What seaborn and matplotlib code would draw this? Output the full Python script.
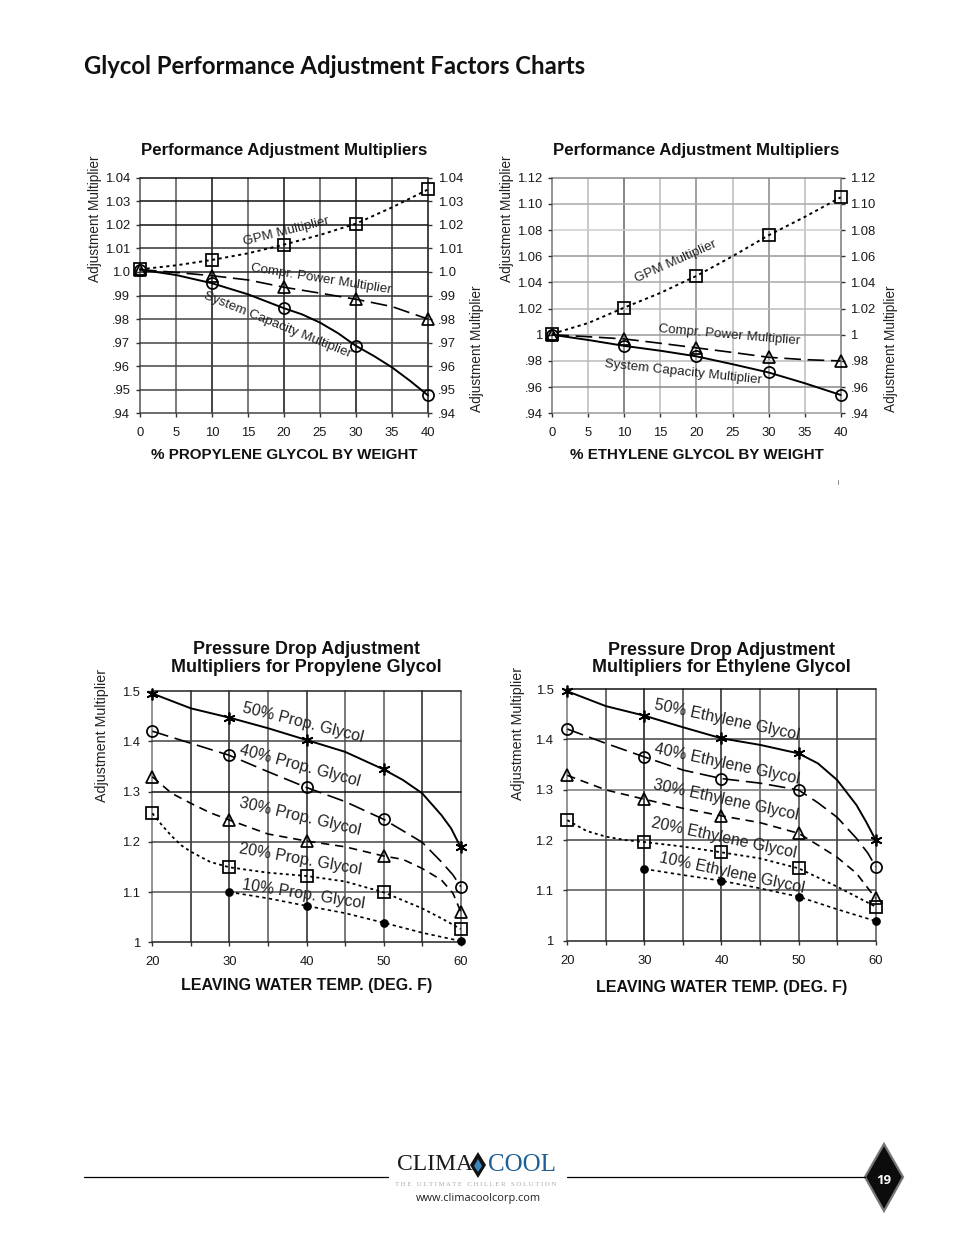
import matplotlib
matplotlib.use("Agg")
import matplotlib.pyplot as plt
import seaborn as sns

sns.set_style("white")
plt.rcParams["font.family"] = ["Liberation Sans", "DejaVu Sans"]

W, H = 954, 1235

# ---- data ----
pct_ticks = [0, 5, 10, 15, 20, 25, 30, 35, 40]
pct_marks = [0, 10, 20, 30, 40]
pct_fine = [0, 5, 10, 15, 20, 22.5, 25, 27.5, 30, 32.5, 35, 37.5, 40]
temp_ticks = [20, 25, 30, 35, 40, 45, 50, 55, 60]
temp_labels = ["20", "", "30", "", "40", "", "50", "", "60"]
temp_marks = [20, 30, 40, 50, 60]

prop_y_ticks = [1.04, 1.03, 1.02, 1.01, 1.0, .99, .98, .97, .96, .95, .94]
prop_y_labels = ["1.04", "1.03", "1.02", "1.01", "1.0", ".99", ".98", ".97", ".96", ".95", ".94"]
eth_y_ticks = [1.12, 1.10, 1.08, 1.06, 1.04, 1.02, 1.0, .98, .96, .94]
eth_y_labels = ["1.12", "1.10", "1.08", "1.06", "1.04", "1.02", "1", ".98", ".96", ".94"]
drop_y_ticks = [1.5, 1.4, 1.3, 1.2, 1.1, 1.0]
drop_y_labels = ["1.5", "1.4", "1.3", "1.2", "1.1", "1"]

prop_gpm = [1.0011, 1.0028, 1.0051, 1.0079, 1.0116, 1.0157, 1.0205, 1.0274, 1.035]
prop_power = [1.001, .9998, .9984, .9966, .9935, .991, .9884, .9853, .980]
prop_cap = [1.001, .9987, .9952, .9905, .9846, .982, .9785, .974, .9686, .9643, .9595, .9538, .9476]

eth_gpm = [1.0007, 1.009, 1.0208, 1.032, 1.045, 1.06, 1.076, 1.09, 1.105]
eth_power = [1.0, .9985, .9968, .9935, .990, .9865, .9828, .981, .98]
eth_cap = [1.0, .996, .9915, .9878, .9835, .9775, .9712, .963, .954]

# pressure drop, propylene
pp50_x = [20, 25, 30, 35, 40, 45, 50, 52.5, 55, 57.5, 58.75, 60]
pp50_y = [1.495, 1.4655, 1.447, 1.426, 1.4025, 1.379, 1.344, 1.323, 1.2965, 1.253, 1.2268, 1.189]
pp40_x = [20, 25, 30, 35, 40, 45, 50, 52.5, 55, 57.5, 59, 60]
pp40_y = [1.42, 1.396, 1.372, 1.3395, 1.308, 1.28, 1.2447, 1.222, 1.199, 1.16, 1.134, 1.1107]
pp30_x = [20, 22.5, 25, 27.5, 30, 35, 40, 45, 50, 52.5, 55, 57.5, 59, 60]
pp30_y = [1.3295, 1.2965, 1.2765, 1.2578, 1.2433, 1.2155, 1.2015, 1.19, 1.1717, 1.165, 1.147, 1.124, 1.0975, 1.061]
pp20_x = [20, 21.25, 22.5, 23.75, 25, 27.5, 30, 35, 40, 45, 50, 55, 57.5, 60]
pp20_y = [1.2567, 1.233, 1.2115, 1.193, 1.1803, 1.16, 1.1492, 1.1385, 1.132, 1.121, 1.0995, 1.0675, 1.0477, 1.0265]
pp10_x = [30, 35, 40, 45, 50, 55, 60]
pp10_y = [1.1, 1.0875, 1.0725, 1.058, 1.039, 1.019, 1.0025]

# pressure drop, ethylene
pe50_x = [20, 25, 30, 35, 40, 45, 50, 52.5, 55, 57.5, 58.75, 60]
pe50_y = [1.4955, 1.466, 1.447, 1.424, 1.402, 1.389, 1.372, 1.3523, 1.3192, 1.2696, 1.2364, 1.2]
pe40_x = [20, 25, 30, 35, 40, 45, 50, 52.5, 55, 57.5, 59, 60]
pe40_y = [1.4205, 1.392, 1.365, 1.339, 1.322, 1.313, 1.2994, 1.2741, 1.2451, 1.2034, 1.1736, 1.147]
pe30_x = [20, 25, 30, 35, 40, 45, 50, 52.5, 55, 57.5, 60]
pe30_y = [1.3285, 1.2995, 1.281, 1.263, 1.248, 1.2345, 1.2133, 1.19, 1.1657, 1.1339, 1.0842]
pe20_x = [20, 22.5, 25, 27.5, 30, 35, 40, 45, 50, 55, 57.5, 60]
pe20_y = [1.2395, 1.218, 1.2067, 1.2, 1.196, 1.187, 1.1755, 1.1635, 1.1438, 1.1073, 1.0874, 1.0675]
pe10_x = [30, 35, 40, 45, 50, 55, 60]
pe10_y = [1.1425, 1.1305, 1.119, 1.104, 1.0874, 1.0624, 1.039]

# marker heights at the labelled points
prop_gpm_m = [1.0011, 1.0051, 1.0116, 1.0205, 1.035]
prop_power_m = [1.001, .9984, .9935, .9884, .980]
prop_cap_m = [1.001, .9952, .9846, .9686, .9476]
eth_gpm_m = [1.0007, 1.0208, 1.045, 1.076, 1.105]
eth_power_m = [1.0, .9968, .990, .9828, .98]
eth_cap_m = [1.0, .9915, .9835, .9712, .954]
pp50_m = [1.495, 1.447, 1.4025, 1.344, 1.189]
pp40_m = [1.42, 1.372, 1.308, 1.2447, 1.1107]
pp30_m = [1.3295, 1.2433, 1.2015, 1.1717, 1.061]
pp20_m = [1.2567, 1.1492, 1.132, 1.0995, 1.0265]
pp10_m = [1.1, 1.0725, 1.039, 1.0025]
pe50_m = [1.4955, 1.447, 1.402, 1.372, 1.2]
pe40_m = [1.4205, 1.365, 1.322, 1.2994, 1.147]
pe30_m = [1.3285, 1.281, 1.248, 1.2133, 1.0842]
pe20_m = [1.2395, 1.196, 1.1755, 1.1438, 1.0675]
pe10_m = [1.1425, 1.119, 1.0874, 1.039]

# ---- line styles ----
DOT = (0, (1.6, 1.8))
SHORT = (0, (5, 3.5))
LONG = (0, (10, 4))
SOLID = "-"
TINY = (0, (2, 2))

fig = plt.figure(figsize=(W / 100, H / 100), dpi=100, facecolor="white")


def make_axes(left, right, top, bottom):
    return fig.add_axes([left / W, 1 - bottom / H, (right - left) / W, (bottom - top) / H])


def curve(ax, x, y, ls, lw=1.2):
    sns.lineplot(x=x, y=y, ax=ax, color="black", linewidth=lw, linestyle=ls,
                 estimator=None, sort=False, clip_on=False, zorder=3)


def marks(ax, x, y, marker, size=8, fill="none"):
    sns.lineplot(x=x, y=y, ax=ax, linestyle="", marker=marker, markersize=size,
                 markerfacecolor=fill, markeredgecolor="black", markeredgewidth=1.25,
                 estimator=None, sort=False, clip_on=False, zorder=4)


def style_axes(ax, xticks, xlabels, xlim, yticks, ylabels, ylim, xgrid, ygrid, right=False, ypad=4):
    ax.set_xlim(*xlim)
    ax.set_ylim(*ylim)
    ax.set_xticks(xticks)
    ax.set_xticklabels(xlabels)
    ax.set_yticks(yticks)
    ax.set_yticklabels(ylabels)
    ax.grid(True)
    ax.patch.set_alpha(0)
    for line, c in zip(ax.get_xgridlines(), xgrid):
        line.set(color=c, linewidth=1.1, clip_on=False)
    for line, c in zip(ax.get_ygridlines(), ygrid):
        line.set(color=c, linewidth=1.1, clip_on=False)
    for s in ax.spines.values():
        s.set_visible(False)
    ax.tick_params(axis="x", bottom=True, length=3, width=1, color="#333333", pad=7,
                   labelsize=9.4, labelcolor="#1a1a1a")
    ax.tick_params(axis="y", left=True, right=right, labelright=right, length=3, width=1,
                   color="#333333", pad=ypad, labelsize=9.4, labelcolor="#1a1a1a")
    ax.set_ylabel("")


def head(ax, title, xlabel, size, xsize, pad, labelpad):
    ax.set_title(title, fontsize=size, fontweight="bold", pad=pad, color="#111111", linespacing=1.05)
    ax.set_xlabel(xlabel, fontsize=xsize, fontweight="bold", labelpad=labelpad, color="#111111")


def note(x, y, s, rot=0, size=9.6, **kw):
    # placed in page pixels
    fig.text(x / W, 1 - y / H, s, rotation=rot, rotation_mode="anchor", ha=kw.pop("ha", "center"),
             va="center", fontsize=size, color=kw.pop("color", "#222222"), zorder=6, **kw)


# ---- top left ----
ax1 = make_axes(140, 428, 177.7, 413.3)
curve(ax1, pct_ticks, prop_gpm, DOT, 1.4)
curve(ax1, pct_ticks, prop_power, LONG, 1.2)
curve(ax1, pct_fine, prop_cap, SOLID, 1.4)
marks(ax1, pct_marks, prop_gpm_m, "s")
marks(ax1, pct_marks, prop_power_m, "^")
marks(ax1, pct_marks, prop_cap_m, "o")
style_axes(ax1, pct_ticks, pct_ticks, (0, 40), prop_y_ticks, prop_y_labels, (.94, 1.04),
           ["#555555", "#555555", "#111111", "#555555", "#111111", "#555555", "#111111", "#333333", "#111111"],
           ["#111111", "#111111", "#111111", "#333333", "#222222", "#333333", "#444444", "#444444", "#444444", "#444444", "#444444"],
           right=True)
head(ax1, "Performance Adjustment Multipliers", "% PROPYLENE GLYCOL BY WEIGHT", 12.1, 10.9, 16, 6)
note(286, 232, "GPM Multiplier", 14)
note(321, 279, "Compr. Power Multiplier", -9)
note(277, 325, "System Capacity Multiplier", -22)
note(95, 219, "Adjustment Multiplier", 90, 9.8)
note(477, 349, "Adjustment Multiplier", 90, 9.8)

# ---- top right ----
ax2 = make_axes(552.3, 840.7, 177.7, 413.3)
curve(ax2, pct_ticks, eth_gpm, DOT, 1.4)
curve(ax2, pct_ticks, eth_power, LONG, 1.2)
curve(ax2, pct_ticks, eth_cap, SOLID, 1.4)
marks(ax2, pct_marks, eth_gpm_m, "s")
marks(ax2, pct_marks, eth_power_m, "^")
marks(ax2, pct_marks, eth_cap_m, "o")
style_axes(ax2, pct_ticks, pct_ticks, (0, 40), eth_y_ticks, eth_y_labels, (.94, 1.12),
           ["#777777", "#bbbbbb", "#666666", "#bbbbbb", "#888888", "#bbbbbb", "#888888", "#bbbbbb", "#777777"],
           ["#888888", "#aaaaaa", "#cccccc", "#999999", "#aaaaaa", "#bbbbbb", "#999999", "#bbbbbb", "#888888", "#999999"],
           right=True)
head(ax2, "Performance Adjustment Multipliers", "% ETHYLENE GLYCOL BY WEIGHT", 12.1, 10.9, 16, 6)
note(676, 262, "GPM Multiplier", 24)
note(729, 335, "Compr. Power Multiplier", -5)
note(683, 372, "System Capacity Multiplier", -6)
note(507, 219, "Adjustment Multiplier", 90, 9.8)
note(891, 349, "Adjustment Multiplier", 90, 9.8)

# ---- bottom left ----
ax3 = make_axes(152.3, 460.7, 691, 942.3)
curve(ax3, pp50_x, pp50_y, SOLID, 1.4)
curve(ax3, pp40_x, pp40_y, LONG, 1.2)
curve(ax3, pp30_x, pp30_y, SHORT, 1.2)
curve(ax3, pp20_x, pp20_y, DOT, 1.3)
curve(ax3, pp10_x, pp10_y, TINY, 1.2)
marks(ax3, temp_marks, pp50_m, (6, 2, 0), 8.5)
marks(ax3, temp_marks, pp40_m, "o")
marks(ax3, temp_marks, pp30_m, "^")
marks(ax3, temp_marks, pp20_m, "s")
marks(ax3, temp_marks[1:], pp10_m, "o", 5, "black")
style_axes(ax3, temp_ticks, temp_labels, (20, 60), drop_y_ticks, drop_y_labels, (1, 1.5),
           ["#777777", "#222222", "#222222", "#555555", "#222222", "#555555", "#555555", "#222222", "#555555"],
           ["#222222", "#444444", "#111111", "#444444", "#555555", "#222222"], ypad=6)
head(ax3, "Pressure Drop Adjustment\nMultipliers for Propylene Glycol", "LEAVING WATER TEMP. (DEG. F)", 12.9, 11.5, 14, 7)
note(303, 723, "50% Prop. Glycol", -14, 11.5)
note(300, 766, "40% Prop. Glycol", -15, 11.5)
note(300, 817, "30% Prop. Glycol", -13, 11.5)
note(300, 859, "20% Prop. Glycol", -10, 11.5)
note(303, 894, "10% Prop. Glycol", -9, 11.5)
note(102, 735, "Adjustment Multiplier", 90, 10.3)

# ---- bottom right ----
ax4 = make_axes(567.3, 875.7, 689, 940.7)
curve(ax4, pe50_x, pe50_y, SOLID, 1.4)
curve(ax4, pe40_x, pe40_y, LONG, 1.2)
curve(ax4, pe30_x, pe30_y, SHORT, 1.2)
curve(ax4, pe20_x, pe20_y, DOT, 1.3)
curve(ax4, pe10_x, pe10_y, TINY, 1.2)
marks(ax4, temp_marks, pe50_m, (6, 2, 0), 8.5)
marks(ax4, temp_marks, pe40_m, "o")
marks(ax4, temp_marks, pe30_m, "^")
marks(ax4, temp_marks, pe20_m, "s")
marks(ax4, temp_marks[1:], pe10_m, "o", 5, "black")
style_axes(ax4, temp_ticks, temp_labels, (20, 60), drop_y_ticks, drop_y_labels, (1, 1.5),
           ["#777777", "#444444", "#111111", "#444444", "#222222", "#555555", "#444444", "#333333", "#555555"],
           ["#111111", "#444444", "#777777", "#444444", "#555555", "#222222"], ypad=7)
head(ax4, "Pressure Drop Adjustment\nMultipliers for Ethylene Glycol", "LEAVING WATER TEMP. (DEG. F)", 12.9, 11.5, 12, 9.5)
note(727, 720, "50% Ethylene Glycol", -12, 11.5)
note(727, 764, "40% Ethylene Glycol", -12, 11.5)
note(726, 800, "30% Ethylene Glycol", -12, 11.5)
note(724, 838, "20% Ethylene Glycol", -12, 11.5)
note(732, 873, "10% Ethylene Glycol", -12, 11.5)
note(518, 733, "Adjustment Multiplier", 90, 10.3)

# ---- page furniture, in pixels ----
page = fig.add_axes([0, 0, 1, 1], zorder=-1)
page.set_xlim(0, W)
page.set_ylim(H, 0)
page.axis("off")
page.plot([84, 388], [1177, 1177], color="black", lw=0.9)
page.plot([567, 865], [1177, 1177], color="black", lw=0.9)
page.plot([838, 838], [480, 484], color="#777777", lw=0.6)
page.fill([884, 903, 884, 865], [1144, 1177, 1211, 1177], facecolor="#0c0c0c", edgecolor="#777777", lw=1.6)
page.fill([478, 486, 478, 470], [1152, 1165, 1178, 1165], facecolor="#111111", edgecolor="none")
page.fill([478, 482, 478, 474], [1159, 1166, 1172, 1166], facecolor="#3f86bd", edgecolor="none")

fig.text(84 / W, 1 - 66 / H, "Glycol Performance Adjustment Factors Charts", family="Lato",
         fontweight="bold", fontsize=17.2, color="#111111", va="center", ha="left")
fig.text(884 / W, 1 - 1181 / H, "19", family="Open Sans", fontweight="bold", fontsize=9.5,
         color="white", va="center", ha="center")
fig.text(397 / W, 1 - 1165 / H, "CLIMA", family="Liberation Serif", fontsize=17, color="#1a1a1a",
         va="center", ha="left")
fig.text(488 / W, 1 - 1165 / H, "COOL", family="Liberation Serif", fontsize=18, color="#1f5f97",
         va="center", ha="left")
fig.text(476 / W, 1 - 1184 / H, "T H E   U L T I M A T E   C H I L L E R   S O L U T I O N", family="Liberation Serif",
         fontsize=4.9, color="#aaaaaa", va="center", ha="center")
fig.text(478 / W, 1 - 1199 / H, "www.climacoolcorp.com", family="Open Sans", fontsize=7.9,
         color="#222222", va="center", ha="center")

fig.savefig("out.png", dpi=100)
